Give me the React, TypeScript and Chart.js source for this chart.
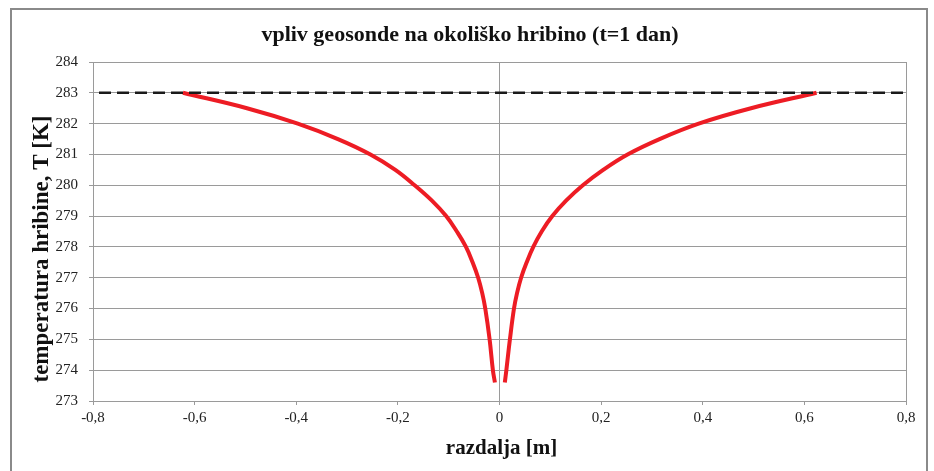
import React, { useEffect, useRef } from "react";
import { Chart, registerables } from "chart.js";

Chart.register(...registerables);

const chartTitle = "vpliv geosonde na okoliško hribino (t=1 dan)";
const xAxisTitle = "razdalja [m]";
const yAxisTitle = "temperatura hribine, T [K]";

const xTickValues = [-0.8, -0.6, -0.4, -0.2, 0, 0.2, 0.4, 0.6, 0.8];
const xTickLabels = ["-0,8", "-0,6", "-0,4", "-0,2", "0", "0,2", "0,4", "0,6", "0,8"];
const yTickValues = [273, 274, 275, 276, 277, 278, 279, 280, 281, 282, 283, 284];

const leftX = [-0.623, -0.497, -0.397, -0.318, -0.254, -0.205, -0.167, -0.133, -0.105, -0.084, -0.066, -0.053, -0.042, -0.034, -0.028, -0.0195, -0.013, -0.009];
const leftT = [283, 282.5, 282, 281.5, 281, 280.5, 280, 279.5, 279, 278.5, 278, 277.5, 277, 276.5, 276, 275, 274, 273.6];

const rightX = [0.0105, 0.0135, 0.0205, 0.0285, 0.0345, 0.0425, 0.0535, 0.0665, 0.083, 0.104, 0.131, 0.164, 0.204, 0.252, 0.315, 0.392, 0.495, 0.624];
const rightT = [273.6, 274, 275, 276, 276.5, 277, 277.5, 278, 278.5, 279, 279.5, 280, 280.5, 281, 281.5, 282, 282.5, 283];

const refX = [-0.8, 0.8];
const refT = [283, 283];

const FONT = "'Liberation Serif', 'DejaVu Serif', serif";

const decorPlugin = {
  id: "decor",
  beforeDraw(chart: any) {
    const ctx = chart.ctx;
    ctx.save();
    ctx.fillStyle = "#ffffff";
    ctx.fillRect(0, 0, chart.width, chart.height);
    ctx.strokeStyle = "#8a8a8a";
    ctx.lineWidth = 2;
    ctx.strokeRect(11, 9, 916, 480);
    ctx.restore();
  },
  afterDraw(chart: any) {
    const ctx = chart.ctx;
    const a = chart.chartArea;
    ctx.save();
    ctx.fillStyle = "#111";
    ctx.textAlign = "center";
    ctx.textBaseline = "middle";
    ctx.font = "bold 22px " + FONT;
    ctx.fillText(chartTitle, 470, 35);
    ctx.font = "bold 21px " + FONT;
    ctx.fillText(xAxisTitle, (a.left + a.right) / 2 + 2, 449);
    ctx.font = "bold 23px " + FONT;
    ctx.translate(42, 249);
    ctx.rotate(-Math.PI / 2);
    ctx.fillText(yAxisTitle, 0, 0);
    ctx.restore();
  },
};

export default function App() {
  const ref = useRef<HTMLCanvasElement | null>(null);
  useEffect(() => {
    if (!ref.current) return;
    const chart = new Chart(ref.current, {
      type: "scatter",
      data: {
        datasets: [
          {
            label: "T0",
            data: refX.map((x, i) => ({ x, y: refT[i] })),
            showLine: true,
            borderColor: "#1a1a1a",
            borderWidth: 2.5,
            borderDash: [12, 6],
            borderDashOffset: -6,
            pointRadius: 0,
          },
          {
            label: "left",
            data: leftX.map((x, i) => ({ x, y: leftT[i] })),
            showLine: true,
            borderColor: "#ed1c24",
            borderWidth: 4,
            pointRadius: 0,
            tension: 0.4,
          },
          {
            label: "right",
            data: rightX.map((x, i) => ({ x, y: rightT[i] })),
            showLine: true,
            borderColor: "#ed1c24",
            borderWidth: 4,
            pointRadius: 0,
            tension: 0.4,
          },
        ],
      },
      options: {
        responsive: false,
        animation: false,
        layout: { padding: { left: 0, right: 28, top: 62, bottom: 0 } },
        plugins: {
          legend: { display: false },
          title: { display: false },
          tooltip: { enabled: false },
        },
        scales: {
          x: {
            type: "linear",
            min: -0.8,
            max: 0.8,
            afterBuildTicks: (s: any) => {
              s.ticks = xTickValues.map((v) => ({ value: v }));
            },
            afterFit: (s: any) => {
              s.height = 70;
            },
            grid: {
              color: (c: any) =>
                c.tick && (Math.abs(c.tick.value) < 1e-9 || Math.abs(Math.abs(c.tick.value) - 0.8) < 1e-9)
                  ? "#9a9a9a"
                  : "rgba(0,0,0,0)",
              tickColor: "#9a9a9a",
              tickLength: 4,
              lineWidth: 1,
            },
            border: { display: true, color: "#9a9a9a", width: 1 },
            ticks: {
              autoSkip: false,
              maxRotation: 0,
              padding: 4,
              color: "#222",
              font: { family: FONT, size: 15 },
              callback: (v: any) => {
                const i = xTickValues.findIndex((t) => Math.abs(t - Number(v)) < 1e-9);
                return i >= 0 ? xTickLabels[i] : "";
              },
            },
          },
          y: {
            type: "linear",
            min: 273,
            max: 284,
            afterBuildTicks: (s: any) => {
              s.ticks = yTickValues.map((v) => ({ value: v }));
            },
            afterFit: (s: any) => {
              s.width = 93;
            },
            grid: {
              color: "#9a9a9a",
              tickColor: "#9a9a9a",
              tickLength: 4,
              lineWidth: 1,
            },
            border: { display: true, color: "#9a9a9a", width: 1 },
            ticks: {
              autoSkip: false,
              padding: 11,
              color: "#222",
              font: { family: FONT, size: 15 },
              callback: (v: any) => String(v),
            },
          },
        },
      },
      plugins: [decorPlugin],
    });
    return () => chart.destroy();
  }, []);
  return (
    <div style={{ position: "fixed", left: 0, top: 0, width: 934, height: 471 }}>
      <canvas ref={ref} width={934} height={471} style={{ display: "block" }} />
    </div>
  );
}
